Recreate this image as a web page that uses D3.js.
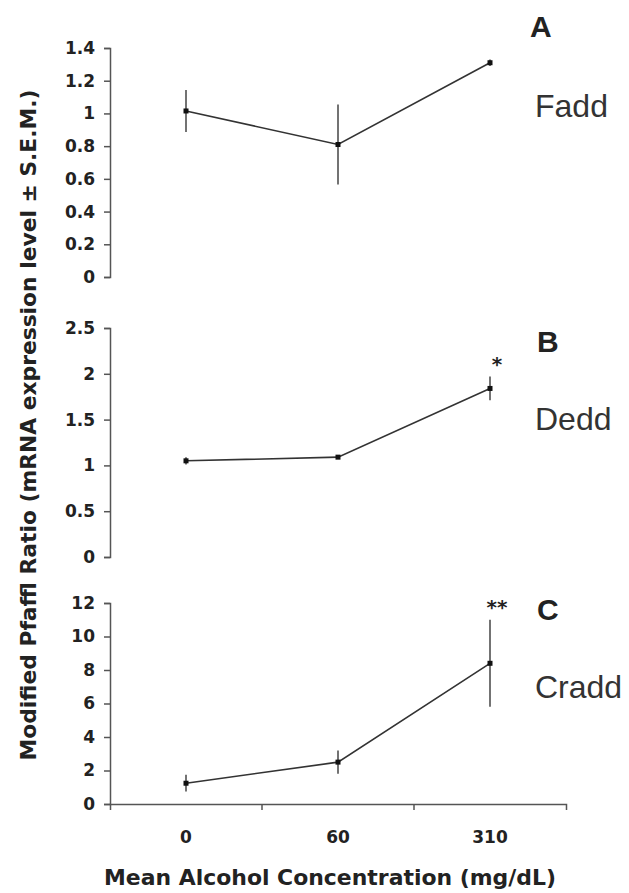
<!DOCTYPE html>
<html lang="en">
<head>
<meta charset="UTF-8" />
<title>Pfaffl ratio vs alcohol</title>
<script src="https://cdn.jsdelivr.net/npm/d3@7"></script>
<style>
  body { margin: 0; background: #fff; }
  svg { display: block; }
</style>
</head>
<body>
<div id="chart"></div>
<script>
// data
const concentrations = ["0", "60", "310"];
const genes = ["Fadd", "Dedd", "Cradd"];
const panelLetters = ["A", "B", "C"];

const faddMean = [1.015, 0.81, 1.31];
const faddSem = [0.128, 0.245, 0.02];
const deddMean = [1.05, 1.09, 1.84];
const deddSem = [0.04, 0.02, 0.13];
const craddMean = [1.24, 2.5, 8.4];
const craddSem = [0.5, 0.7, 2.6];

const faddTicks = [0, 0.2, 0.4, 0.6, 0.8, 1, 1.2, 1.4];
const deddTicks = [0, 0.5, 1, 1.5, 2, 2.5];
const craddTicks = [0, 2, 4, 6, 8, 10, 12];

const faddStars = ["", "", ""];
const deddStars = ["", "", "*"];
const craddStars = ["", "", "**"];

const yTitle = "Modified Pfaffl Ratio (mRNA expression level \u00b1 S.E.M.)";
const xTitle = "Mean Alcohol Concentration (mg/dL)";

const W = 629, H = 893;
const boldFont = "'DejaVu Sans', sans-serif";
const plainFont = "'Liberation Sans', Arial, sans-serif";
const ink = "#222";

const svg = d3.select("#chart").append("svg").attr("width", W).attr("height", H);

const x = d3.scaleBand().domain(concentrations).range([110, 566]);

// each panel: pixel extent of its y axis
const panels = [
  {mean: faddMean, sem: faddSem, ticks: faddTicks, stars: faddStars, top: 48, bottom: 277,
   letterY: 37, geneY: 117},
  {mean: deddMean, sem: deddSem, ticks: deddTicks, stars: deddStars, top: 328, bottom: 557,
   letterY: 352, geneY: 430},
  {mean: craddMean, sem: craddSem, ticks: craddTicks, stars: craddStars, top: 603, bottom: 804,
   letterY: 620, geneY: 698}
];

panels.forEach(function (p, k) {
  const y = d3.scaleLinear()
    .domain([0, d3.max(p.ticks)])
    .range([p.bottom, p.top]);

  const g = svg.append("g");

  // y axis
  const ay = g.append("g")
    .attr("transform", "translate(" + x.range()[0] + ",0)")
    .call(d3.axisLeft(y).tickValues(p.ticks).tickFormat(d3.format("~g"))
      .tickSize(6).tickPadding(9));
  ay.selectAll("path, line").attr("stroke", "#555").attr("stroke-width", 1.5);
  ay.selectAll("text")
    .attr("font-family", boldFont).attr("font-weight", "bold")
    .attr("font-size", 17).attr("fill", ink);

  const rows = concentrations.map(function (c, i) {
    return {c: c, m: p.mean[i], s: p.sem[i], star: p.stars[i]};
  });

  // connecting line
  g.append("path")
    .datum(rows)
    .attr("fill", "none")
    .attr("stroke", "#333")
    .attr("stroke-width", 1.6)
    .attr("d", d3.line()
      .x(function (d) { return x(d.c) + x.bandwidth() / 2; })
      .y(function (d) { return y(d.m); }));

  // error bars
  g.selectAll(".err").data(rows).join("line")
    .attr("x1", function (d) { return x(d.c) + x.bandwidth() / 2; })
    .attr("x2", function (d) { return x(d.c) + x.bandwidth() / 2; })
    .attr("y1", function (d) { return y(d.m - d.s); })
    .attr("y2", function (d) { return y(d.m + d.s); })
    .attr("stroke", "#444")
    .attr("stroke-width", 1.5);

  // markers
  g.selectAll(".pt").data(rows).join("rect")
    .attr("x", function (d) { return x(d.c) + x.bandwidth() / 2 - 2.5; })
    .attr("y", function (d) { return y(d.m) - 2.5; })
    .attr("width", 5)
    .attr("height", 5)
    .attr("fill", "#111");

  // significance stars
  g.selectAll(".star").data(rows.filter(function (d) { return d.star; })).join("text")
    .attr("x", function (d) { return x(d.c) + x.bandwidth() / 2 + 7; })
    .attr("y", function (d) { return y(d.m + d.s) - 6; })
    .attr("text-anchor", "middle")
    .attr("font-family", boldFont).attr("font-weight", "bold")
    .attr("font-size", 20).attr("fill", ink)
    .text(function (d) { return d.star; });

  // panel letter and gene name
  g.append("text")
    .attr("x", 530 + (k > 0 ? 7 : 0))
    .attr("y", p.letterY)
    .attr("font-family", plainFont).attr("font-weight", "bold")
    .attr("font-size", 30).attr("fill", ink)
    .text(panelLetters[k]);

  g.append("text")
    .attr("x", 535)
    .attr("y", p.geneY)
    .attr("font-family", plainFont)
    .attr("font-size", 32).attr("fill", "#333")
    .text(genes[k]);

  // x axis only on the bottom panel
  if (k === panels.length - 1) {
    const ax = g.append("g")
      .attr("transform", "translate(0," + p.bottom + ")")
      .call(d3.axisBottom(x).tickSize(0).tickSizeOuter(6).tickPadding(27));
    ax.select(".domain").attr("stroke", "#555").attr("stroke-width", 1.5);
    ax.selectAll("text")
      .attr("font-family", boldFont).attr("font-weight", "bold")
      .attr("font-size", 17).attr("fill", ink);
    // ticks between the categories
    ax.selectAll(".sep").data(concentrations.slice(1)).join("line")
      .attr("x1", function (d) { return x(d); })
      .attr("x2", function (d) { return x(d); })
      .attr("y1", 0).attr("y2", 6)
      .attr("stroke", "#555").attr("stroke-width", 1.5);
  }
});

// axis titles
svg.append("text")
  .attr("x", 330).attr("y", 885)
  .attr("text-anchor", "middle")
  .attr("font-family", boldFont).attr("font-weight", "bold")
  .attr("font-size", 21).attr("fill", ink)
  .attr("textLength", 452).attr("lengthAdjust", "spacingAndGlyphs")
  .text(xTitle);

svg.append("text")
  .attr("transform", "translate(36,425) rotate(-90)")
  .attr("text-anchor", "middle")
  .attr("font-family", boldFont).attr("font-weight", "bold")
  .attr("font-size", 21).attr("fill", ink)
  .attr("textLength", 671).attr("lengthAdjust", "spacingAndGlyphs")
  .text(yTitle);
</script>
</body>
</html>
